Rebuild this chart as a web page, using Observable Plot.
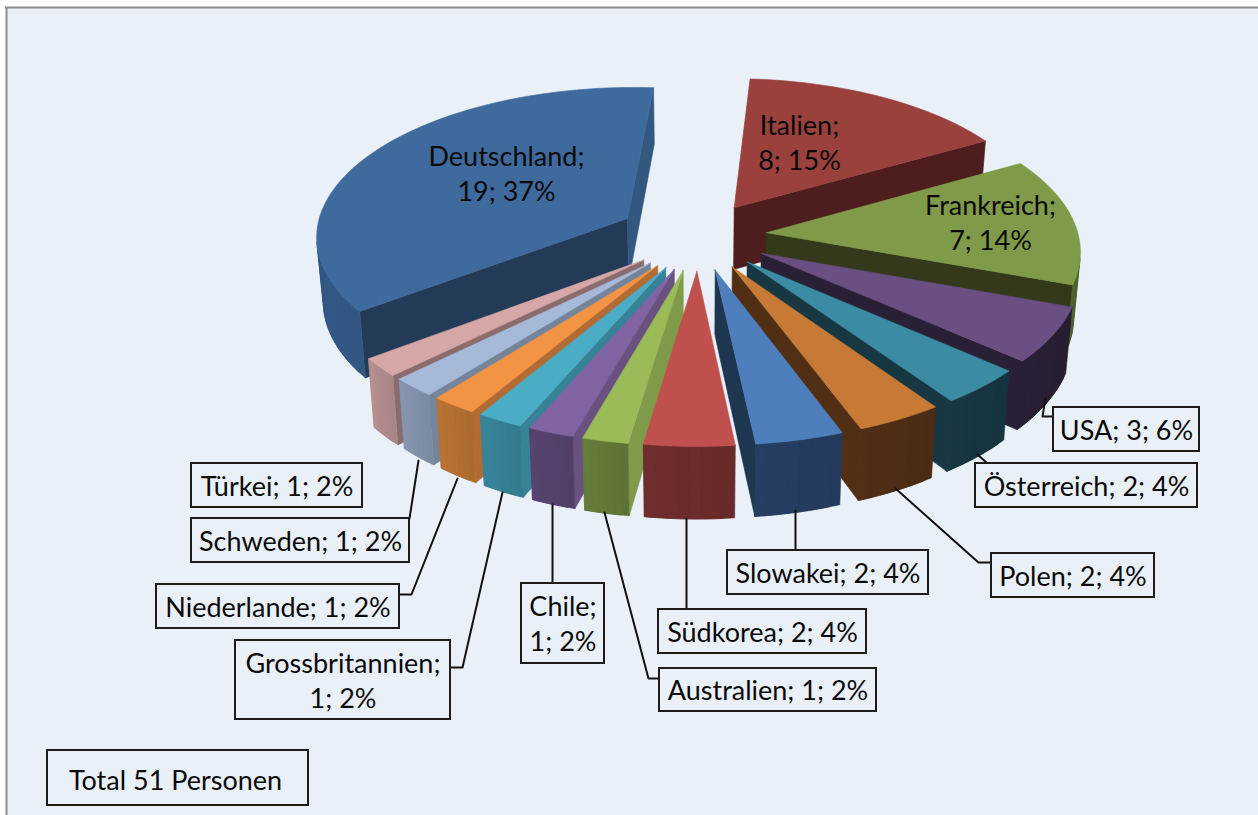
<!DOCTYPE html>
<html><head><meta charset="utf-8">
<style>html,body{margin:0;padding:0;background:#fff}svg{display:block}</style>
<script src="https://cdn.jsdelivr.net/npm/d3@7"></script>
<script src="https://cdn.jsdelivr.net/npm/@observablehq/plot@0.6"></script>
</head><body><div id="chart"></div>
<script>
// ---- data (clockwise from the top) ----
const countries = ["Italien","Frankreich","USA","Österreich","Polen","Slowakei","Südkorea","Australien","Chile","Grossbritannien","Niederlande","Schweden","Türkei","Deutschland"];
const persons   = [8,7,3,2,2,2,2,1,1,1,1,1,1,19];
const percents  = [15,14,6,4,4,4,4,2,2,2,2,2,2,37];
const totalLabel = "Total 51 Personen";
const twoLineLabels = ["Italien","Frankreich","Chile","Grossbritannien","Deutschland"];

// ---- styles ----
const topColors  = ["#9a403d","#7f9a48","#6a4f82","#3b8ba3","#c77a35","#4e7fbc","#bf504d","#9bbb59","#8064a2","#4bacc6","#f39444","#a7b9d8","#d7a6a6","#3f6a9e"];
const rimColors  = ["#4e1d1d","#4f6130","#2a2035","#173842","#512f15","#263f63","#702e2d","#667d3a","#574570","#38859b","#bb7333","#8797b0","#b79090","#365e8e"];
const startWalls = ["#4e1d1d","#34391b","#2a2035","#173842","#512f15","#1f3650","#7f2f2d","#7f9a48","#69527f","#368296","#b26c33","#74849a","#8b6c6c","#243b58"];
const endWalls   = ["#4e1d1d","#34391b","#2a2035","#173842","#512f15","#1f3650","#7f2f2d","#7f9a48","#69527f","#368296","#b26c33","#74849a","#8b6c6c","#33587f"];
const explodes   = [0.225,0.222,0.234,0.234,0.234,0.234,0.234,0.234,0.234,0.234,0.234,0.234,0.234,0.255];
const drawOrder  = [13,0,1,2,3,4,5,12,11,10,9,8,7,6];
const bg = "#e9f0f8";

// ---- layout of the callouts, in the pixel units of the x and y scales ----
const labelBoxes = {
  "USA":[1053,407,1199,451], "Österreich":[975,463,1197,507], "Polen":[991,553,1154,597],
  "Slowakei":[727,550,928,594], "Südkorea":[658,609,866,653], "Australien":[659,668,876,711],
  "Chile":[521,583,604,663], "Grossbritannien":[235,640,450,719], "Niederlande":[156,584,399,628],
  "Schweden":[191,518,409,562], "Türkei":[191,463,362,507]
};
const inPieLabels = {"Italien":[799,143],"Frankreich":[990,223],"Deutschland":[506,174]};
const leaders = {
  "USA":[[1045,398],[1042,416],[1053,416]], "Österreich":[[977,454],[987,463]],
  "Polen":[[895,488],[978,562],[991,562]], "Slowakei":[[795,510],[795,550]],
  "Südkorea":[[686,518],[686,609]], "Australien":[[604,512],[648,678],[659,678]],
  "Chile":[[552,504],[552,583]], "Grossbritannien":[[502,492],[462,667],[450,667]],
  "Niederlande":[[457,478],[411,594],[399,594]], "Schweden":[[418,460],[409,518]]
};
const totalBox = [47,750,308,805];
const W = 1258, H = 815, frameX = 6, frameY = 7;

// ---- perspective pie geometry, all derived from the values ----
const cam = {cx:697, cy:235, Rx:312, Ry:148.5, depth:63, persp:0.1065, start:4, shrink:0.017};
const total = d3.sum(persons);
const warp = a => a + 3.2*Math.exp(-(((a-230)/40)**2));
const rad = a => a*Math.PI/180;
function project(X,Y,Z){
  const w = 1 + cam.persp*Y;
  return {x: cam.cx + cam.Rx*X/w*(1-cam.shrink*Z), y: cam.cy + (-cam.Ry*Y + cam.depth*Z)/w};
}
let cum = 0;
const slices = persons.map((v,i)=>{
  const a0 = cam.start + cum/total*360; cum += v; const a1 = cam.start + cum/total*360;
  return {i, a0:warp(a0), a1:warp(a1), mid:rad((a0+a1)/2)};
});
const facePoints = [];
let faceId = 0;
function addFace(pts,color){ const id = faceId++; [...pts,pts[0]].forEach(p=>facePoints.push({x:p.x,y:p.y,id,color})); }
drawOrder.forEach(i=>{
  const s = slices[i];
  const ex = explodes[i]*Math.sin(s.mid), ey = explodes[i]*Math.cos(s.mid);
  const pt = (r,a,Z)=>project(ex + r*Math.sin(rad(a)), ey + r*Math.cos(rad(a)), Z);
  const n = Math.max(6, Math.ceil((s.a1-s.a0)/2));
  const angles = d3.range(n+1).map(k=>s.a0 + (s.a1-s.a0)*k/n);
  const wall = a => [pt(0,a,0),pt(1,a,0),pt(1,a,1),pt(0,a,1)];
  const sw = wall(s.a0), ew = wall(s.a1);
  const shoe = p => { let t=0; p.forEach((a,j)=>{const b=p[(j+1)%p.length]; t+=a.x*b.y-b.x*a.y;}); return t; };
  if (shoe(sw)<0) addFace(sw,startWalls[i]);
  if (shoe(ew)>0) addFace(ew,endWalls[i]);
  // rim facets overlap the next one so that no seam shows the background
  d3.range(n).forEach(k=>{
    const a = angles[k], b = angles[k+1], c = angles[Math.min(k+2,n)];
    if (shoe([pt(1,a,0),pt(1,b,0),pt(1,b,1),pt(1,a,1)])<0) {
      const upper = d3.range(5).map(j=>pt(1,a+(c-a)*j/4,0));
      const lower = d3.range(5).map(j=>pt(1,c-(c-a)*j/4,1));
      addFace([...upper,...lower], d3.rgb(rimColors[i]).darker(0.22*(1-k/n)).formatHex());
    }
  });
  addFace([pt(0,s.a0,0),...angles.map(a=>pt(1,a,0))],topColors[i]);
});

// ---- label tables ----
const labelText = n => { const i = countries.indexOf(n);
  return twoLineLabels.includes(n) ? `${n};\n${persons[i]}; ${percents[i]}%` : `${n}; ${persons[i]}; ${percents[i]}%`; };
const boxRows = Object.entries(labelBoxes).map(([n,b])=>({n,x1:b[0],y1:b[1],x2:b[2],y2:b[3]}));
const boxTextRows = boxRows.map(d=>({t:labelText(d.n),x:(d.x1+d.x2)/2,y:(d.y1+d.y2)/2}));
const pieTextRows = Object.entries(inPieLabels).map(([n,p])=>({t:labelText(n),x:p[0],y:p[1]}));
const leaderRows = Object.entries(leaders).flatMap(([n,p])=>p.map(q=>({n,x:q[0],y:q[1]})));
const textStyle = {x:"x",y:"y",text:"t",fontFamily:"Lato",fontSize:27,lineHeight:1.3,lineAnchor:"middle",fill:"#0a0a0a"};

const chart = Plot.plot({
  width:W, height:H, margin:0,
  x:{domain:[0,W],range:[0,W],axis:null},
  y:{domain:[0,H],range:[0,H],axis:null},
  color:{type:"identity"},
  style:{background:"#fff"},
  marks:[
    Plot.rect([{x1:frameX,y1:frameY,x2:W,y2:H}],{x1:"x1",y1:"y1",x2:"x2",y2:"y2",fill:bg}),
    Plot.ruleX([frameX],{y1:frameY,y2:H,stroke:"#8c8c8c",strokeWidth:2}),
    Plot.ruleY([frameY],{x1:frameX-1,x2:W,stroke:"#8c8c8c",strokeWidth:2}),
    Plot.line(facePoints,{x:"x",y:"y",z:"id",fill:"color",stroke:"color",strokeWidth:0.6,strokeLinejoin:"round"}),
    Plot.line(leaderRows,{x:"x",y:"y",z:"n",stroke:"#111",strokeWidth:2}),
    Plot.rect(boxRows,{x1:"x1",y1:"y1",x2:"x2",y2:"y2",fill:bg,stroke:"#1c1c1c",strokeWidth:2}),
    Plot.rect([{x1:totalBox[0],y1:totalBox[1],x2:totalBox[2],y2:totalBox[3]}],{x1:"x1",y1:"y1",x2:"x2",y2:"y2",fill:bg,stroke:"#1c1c1c",strokeWidth:2}),
    Plot.text(boxTextRows,{...textStyle,dy:-1}),
    Plot.text(pieTextRows,{...textStyle,dy:-2.5}),
    Plot.text([{t:totalLabel,x:175,y:778}],{...textStyle,dy:0.5,style:"letter-spacing:0.45px"})
  ]
});
document.getElementById("chart").append(chart);
</script></body></html>
